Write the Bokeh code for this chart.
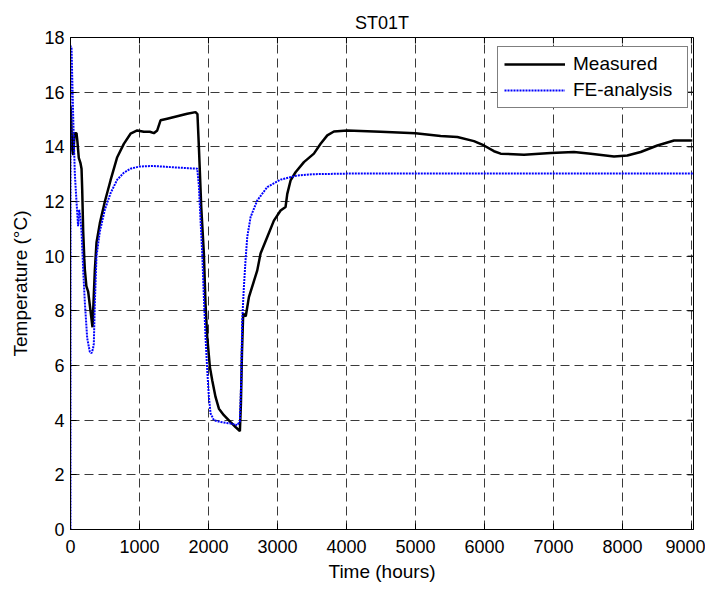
import math
from bokeh.plotting import figure
from bokeh.models import Range1d, Legend, LegendItem, FixedTicker
from bokeh.embed import file_html
from bokeh.resources import INLINE

# ---- data ----
measured_x = [0, 10, 24, 40, 60, 87, 100, 120, 145, 160, 170, 184, 200, 208, 230, 256, 290, 319,
              338, 353, 377, 425, 498, 580, 677, 773, 870, 967, 1063, 1150, 1208, 1257, 1305, 1402,
              1547, 1692, 1812, 1840, 1861, 1895, 1933, 1957, 1982, 2020, 2054, 2102, 2151, 2223,
              2320, 2392, 2455, 2470, 2485, 2503, 2540, 2586, 2707, 2755, 2852, 2948, 3045, 3117,
              3142, 3190, 3262, 3383, 3528, 3625, 3722, 3818, 4012, 4495, 5000, 5365, 5607, 5848,
              5993, 6138, 6235, 6573, 6960, 7297, 7540, 7878, 8071, 8264, 8506, 8748, 9013]
measured_y = [15.5, 15.0, 13.9, 13.7, 14.5, 14.5, 14.2, 13.6, 13.4, 13.2, 12.4, 10.9, 9.9, 9.5, 8.9,
              8.7, 8.0, 7.4, 8.6, 9.5, 10.5, 11.2, 12.0, 12.77, 13.62, 14.11, 14.48, 14.6, 14.55,
              14.55, 14.5, 14.6, 14.97, 15.03, 15.12, 15.21, 15.27, 15.2, 14.0, 11.8, 10.1, 8.27,
              7.04, 5.95, 5.46, 4.85, 4.42, 4.18, 3.93, 3.75, 3.6, 4.6, 6.44, 7.9, 7.8, 8.5, 9.48,
              10.1, 10.7, 11.3, 11.67, 11.8, 12.28, 12.77, 13.07, 13.44, 13.75, 14.11, 14.42,
              14.56, 14.6, 14.55, 14.5, 14.4, 14.36, 14.21, 14.05, 13.84, 13.75, 13.71, 13.77,
              13.81, 13.75, 13.65, 13.68, 13.81, 14.05, 14.23, 14.23]

fe_x = [0, 2, 15, 40, 63, 87, 110, 125, 140, 160, 184, 208, 242, 280, 304, 325, 338, 353, 377, 425,
        498, 580, 677, 773, 870, 1000, 1200, 1500, 1700, 1837, 1860, 1885, 1909, 1933, 1957, 1982,
        2006, 2030, 2078, 2175, 2320, 2417, 2455, 2475, 2489, 2513, 2537, 2562, 2610, 2707, 2852,
        3045, 3287, 3528, 4000, 5000, 6000, 7000, 8000, 9030]
fe_y = [0, 17.7, 17.6, 15.0, 13.0, 12.0, 11.1, 11.7, 11.5, 10.9, 9.5, 8.3, 7.0, 6.5, 6.45, 6.6,
        6.8, 8.3, 10.0, 10.9, 11.7, 12.3, 12.8, 13.05, 13.2, 13.28, 13.3, 13.25, 13.22, 13.2, 12.6,
        11.3, 10.1, 8.5, 7.04, 5.82, 4.85, 4.25, 4.0, 3.93, 3.88, 3.82, 3.95, 5.46, 7.65, 8.87,
        9.85, 10.7, 11.43, 12.04, 12.53, 12.8, 12.95, 13.0, 13.02, 13.02, 13.02, 13.02, 13.02, 13.02]

x_ticks = [0, 1000, 2000, 3000, 4000, 5000, 6000, 7000, 8000, 9000]
y_ticks = [0, 2, 4, 6, 8, 10, 12, 14, 16, 18]
x_max = 9030
y_max = 18
title_text = "ST01T"
x_label = "Time (hours)"
y_label = "Temperature (°C)"
series_names = ["Measured", "FE-analysis"]

FONT = "Liberation Sans"

p = figure(frame_width=623, frame_height=492, output_backend="svg", toolbar_location=None,
           x_range=Range1d(0, x_max), y_range=Range1d(0, y_max),
           min_border_left=70, min_border_top=37, min_border_right=12, min_border_bottom=53)
p.background_fill_color = "white"
p.border_fill_color = "white"
p.outline_line_color = "black"
p.outline_line_width = 1

p.title.text = title_text
p.title.align = "center"
p.title.vertical_align = "top"
p.title.text_font = FONT
p.title.text_font_size = "18px"
p.title.text_font_style = "normal"
p.title.text_color = "black"
p.title.standoff = 5

for ax in (p.xaxis[0], p.yaxis[0]):
    ax.major_label_text_font = FONT
    ax.major_label_text_font_size = "18px"
    ax.major_label_text_color = "black"
    ax.axis_label_text_font = FONT
    ax.axis_label_text_font_size = "19px"
    ax.axis_label_text_font_style = "normal"
    ax.axis_label_text_color = "black"
    ax.major_tick_in = 6
    ax.major_tick_out = 0
    ax.minor_tick_line_color = None
    ax.axis_line_color = "black"
    ax.major_tick_line_color = "black"

p.xaxis[0].ticker = FixedTicker(ticks=x_ticks)
p.yaxis[0].ticker = FixedTicker(ticks=y_ticks)
p.xaxis[0].axis_label = x_label
p.yaxis[0].axis_label = y_label
p.xaxis[0].major_label_standoff = 10
p.yaxis[0].major_label_standoff = 6
p.xaxis[0].axis_label_standoff = 5
p.yaxis[0].axis_label_standoff = 10

p.xgrid.ticker = FixedTicker(ticks=x_ticks)
p.ygrid.ticker = FixedTicker(ticks=y_ticks)
for g in (p.xgrid[0], p.ygrid[0]):
    g.grid_line_color = "#3a3a3a"
    g.grid_line_dash = "9 5"
    g.grid_line_width = 1

# inward tick marks on the top and right borders (mirror of the main ticks)
p.scatter(x_ticks, [y_max] * len(x_ticks), marker="dash", size=12, angle=math.pi / 2,
          line_color="black", line_width=1)
p.scatter([x_max] * len(y_ticks), y_ticks, marker="dash", size=12,
          line_color="black", line_width=1)

r_m = p.line(measured_x, measured_y, line_color="black", line_width=2.5)
r_f = p.line(fe_x, fe_y, line_color="#0000ff", line_width=2, line_dash="2 1")

legend = Legend(items=[LegendItem(label=series_names[0], renderers=[r_m]),
                       LegendItem(label=series_names[1], renderers=[r_f])],
                location=(427, 421))
legend.label_text_font = FONT
legend.label_text_font_size = "19px"
legend.label_text_color = "black"
legend.border_line_color = "black"
legend.border_line_width = 1
legend.background_fill_color = "white"
legend.background_fill_alpha = 1
legend.glyph_width = 61
legend.glyph_height = 20
legend.label_height = 20
legend.label_width = 108
legend.label_standoff = 8
legend.spacing = 4
legend.padding = 6
legend.margin = 0
p.add_layout(legend, "center")

open("out.html", "w").write(file_html(p, INLINE))
